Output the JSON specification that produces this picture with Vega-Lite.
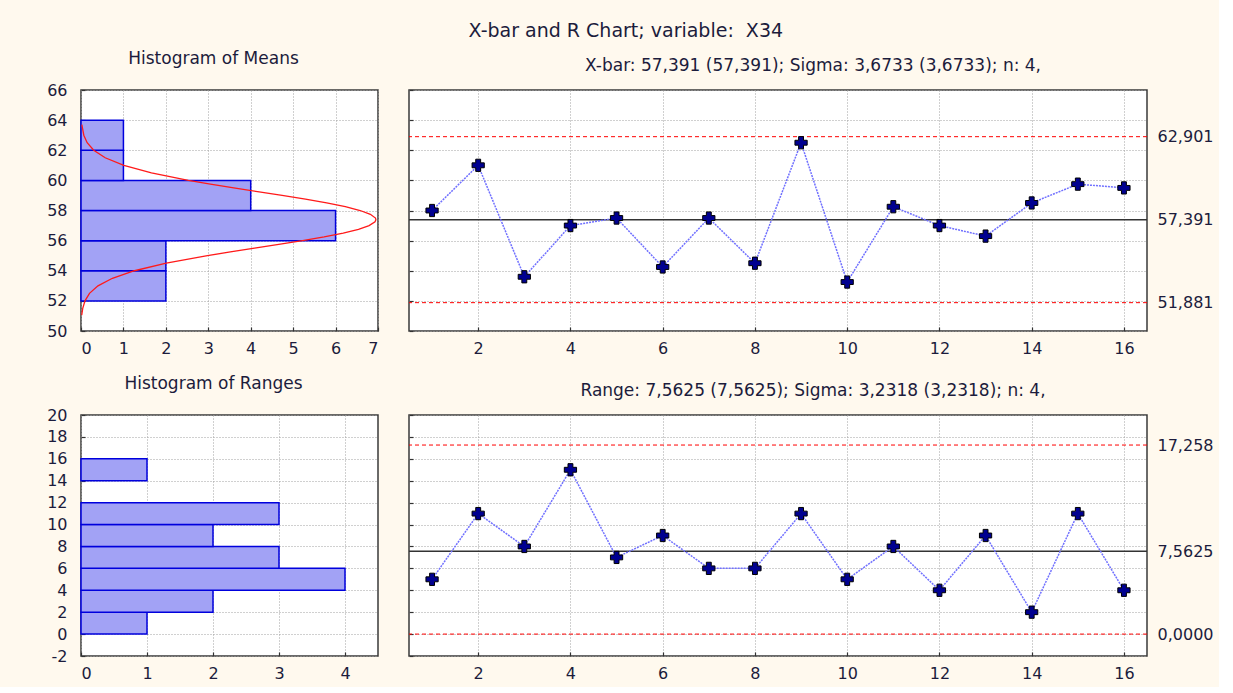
{
  "$schema": "https://vega.github.io/schema/vega-lite/v6.json",
  "background": "#FFF9EE",
  "padding": {"left": 45, "top": 22, "right": 5, "bottom": 5},
  "title": {"text": "X-bar and R Chart; variable:\u00a0 X34", "fontSize": 19, "fontWeight": "normal", "anchor": "middle", "frame": "bounds", "offset": 8, "dx": -4, "color": "#1c1c3c", "font": "DejaVu Sans"},
  "config": {
    "font": "DejaVu Sans",
    "view": {"fill": "white", "stroke": "#3a3a3a", "strokeWidth": 1.5},
    "axis": {"labelFont": "DejaVu Sans", "labelFontSize": 16, "labelColor": "#1c1c3c", "labelOverlap": false, "domain": false, "gridColor": "#a0a0a0", "gridDash": [1, 2], "gridWidth": 1, "tickColor": "#333333", "tickWidth": 1.2},
    "title": {"font": "DejaVu Sans", "fontWeight": "normal", "color": "#1c1c3c"}
  },
  "datasets": {
    "meansHist": [
      {"lo": 52, "hi": 54, "n": 2},
      {"lo": 54, "hi": 56, "n": 2},
      {"lo": 56, "hi": 58, "n": 6},
      {"lo": 58, "hi": 60, "n": 4},
      {"lo": 60, "hi": 62, "n": 1},
      {"lo": 62, "hi": 64, "n": 1}
    ],
    "rangesHist": [
      {"lo": 0, "hi": 2, "n": 1},
      {"lo": 2, "hi": 4, "n": 2},
      {"lo": 4, "hi": 6, "n": 4},
      {"lo": 6, "hi": 8, "n": 3},
      {"lo": 8, "hi": 10, "n": 2},
      {"lo": 10, "hi": 12, "n": 3},
      {"lo": 14, "hi": 16, "n": 1}
    ],
    "curve": [
      {"y": 51.05, "d": 0.017}, {"y": 51.5, "d": 0.041}, {"y": 52, "d": 0.094}, {"y": 52.5, "d": 0.2},
      {"y": 53, "d": 0.4}, {"y": 53.5, "d": 0.74}, {"y": 54, "d": 1.26}, {"y": 54.5, "d": 2.01},
      {"y": 55, "d": 2.98}, {"y": 55.25, "d": 3.52}, {"y": 55.5, "d": 4.09}, {"y": 55.75, "d": 4.66},
      {"y": 56, "d": 5.22}, {"y": 56.25, "d": 5.73}, {"y": 56.5, "d": 6.18}, {"y": 56.75, "d": 6.54},
      {"y": 57, "d": 6.79}, {"y": 57.25, "d": 6.93}, {"y": 57.391, "d": 6.95}, {"y": 57.5, "d": 6.94},
      {"y": 57.75, "d": 6.82}, {"y": 58, "d": 6.58}, {"y": 58.25, "d": 6.23}, {"y": 58.5, "d": 5.79},
      {"y": 58.75, "d": 5.29}, {"y": 59, "d": 4.74}, {"y": 59.25, "d": 4.16}, {"y": 59.5, "d": 3.6},
      {"y": 59.75, "d": 3.05}, {"y": 60, "d": 2.53}, {"y": 60.5, "d": 1.66}, {"y": 61, "d": 1.01},
      {"y": 61.5, "d": 0.57}, {"y": 62, "d": 0.3}, {"y": 62.5, "d": 0.145}, {"y": 63, "d": 0.066},
      {"y": 63.7, "d": 0.02}
    ],
    "means": [
      {"s": 1, "v": 58.0}, {"s": 2, "v": 61.0}, {"s": 3, "v": 53.6}, {"s": 4, "v": 57.0},
      {"s": 5, "v": 57.5}, {"s": 6, "v": 54.25}, {"s": 7, "v": 57.5}, {"s": 8, "v": 54.5},
      {"s": 9, "v": 62.5}, {"s": 10, "v": 53.25}, {"s": 11, "v": 58.25}, {"s": 12, "v": 57.0},
      {"s": 13, "v": 56.3}, {"s": 14, "v": 58.5}, {"s": 15, "v": 59.75}, {"s": 16, "v": 59.5}
    ],
    "ranges": [
      {"s": 1, "v": 5}, {"s": 2, "v": 11}, {"s": 3, "v": 8}, {"s": 4, "v": 15},
      {"s": 5, "v": 7}, {"s": 6, "v": 9}, {"s": 7, "v": 6}, {"s": 8, "v": 6},
      {"s": 9, "v": 11}, {"s": 10, "v": 5}, {"s": 11, "v": 8}, {"s": 12, "v": 4},
      {"s": 13, "v": 9}, {"s": 14, "v": 2}, {"s": 15, "v": 11}, {"s": 16, "v": 4}
    ],
    "xbarLimits": [{"v": 62.901}, {"v": 51.881}],
    "xbarCenter": [{"v": 57.391}],
    "rLimits": [{"v": 17.258}, {"v": 0}],
    "rCenter": [{"v": 7.5625}]
  },
  "columns": 2,
  "bounds": "flush",
  "spacing": {"row": 84, "column": 31},
  "concat": [
    {
      "width": 297, "height": 241,
      "title": {"text": "Histogram of Means", "fontSize": 17, "anchor": "middle", "frame": "group", "dx": -16, "offset": 14},
      "layer": [
        {
          "data": {"name": "meansHist"},
          "mark": {"type": "rect", "fill": "#a2a2f5", "stroke": "#0000dd", "strokeWidth": 1.5},
          "encoding": {
            "y": {"field": "lo", "type": "quantitative", "scale": {"domain": [50, 66], "nice": false, "zero": false},
                  "axis": {"orient": "left", "values": [50, 52, 54, 56, 58, 60, 62, 64, 66], "grid": true, "tickSize": -4, "labelPadding": 18, "labelOverlap": false, "title": null}},
            "y2": {"field": "hi"},
            "x": {"field": "n", "type": "quantitative", "scale": {"domain": [0, 7], "nice": false},
                  "axis": {"orient": "bottom", "values": [0, 1, 2, 3, 4, 5, 6, 7], "grid": true, "tickSize": -4, "labelPadding": 13, "labelOverlap": false, "title": null}},
            "x2": {"datum": 0}
          }
        },
        {
          "data": {"name": "curve"},
          "mark": {"type": "line", "color": "#ff1a1a", "strokeWidth": 1.3},
          "encoding": {
            "y": {"field": "y", "type": "quantitative",
                  "axis": {"orient": "left", "labels": false, "ticks": false, "grid": false, "domain": false, "title": null}},
            "x": {"field": "d", "type": "quantitative",
                  "axis": {"orient": "bottom", "labels": false, "ticks": false, "grid": false, "domain": false, "title": null}},
            "order": {"field": "y", "type": "quantitative"}
          }
        }
      ],
      "resolve": {"axis": {"x": "independent", "y": "independent"}}
    },
    {
      "width": 738, "height": 241,
      "title": {"text": "X-bar: 57,391 (57,391); Sigma: 3,6733 (3,6733); n: 4,", "fontSize": 17, "anchor": "middle", "frame": "group", "dx": 35, "offset": 14},
      "layer": [
        {
          "data": {"name": "xbarLimits"},
          "mark": {"type": "rule", "color": "#ff0000", "strokeDash": [4, 3], "strokeWidth": 1},
          "encoding": {
            "y": {"field": "v", "type": "quantitative", "scale": {"domain": [50, 66], "nice": false, "zero": false},
                  "axis": {"orient": "right", "values": [51.881, 57.391, 62.901], "grid": false, "ticks": false, "labelPadding": 10,
                           "labelExpr": "replace(format(datum.value, '.3f'), '.', ',')", "title": null}}
          }
        },
        {
          "data": {"name": "xbarCenter"},
          "mark": {"type": "rule", "color": "#333333", "strokeWidth": 1.5},
          "encoding": {"y": {"field": "v", "type": "quantitative", "axis": null}}
        },
        {
          "data": {"name": "means"},
          "mark": {"type": "line", "color": "#7070ff", "strokeWidth": 1.5, "strokeDash": [2, 1]},
          "encoding": {
            "x": {"field": "s", "type": "quantitative", "scale": {"domain": [0.5, 16.5], "nice": false, "zero": false},
                  "axis": {"orient": "bottom", "values": [2, 4, 6, 8, 10, 12, 14, 16], "grid": true, "tickSize": -4, "labelPadding": 13, "title": null}},
            "y": {"field": "v", "type": "quantitative",
                  "axis": {"orient": "left", "values": [50, 52, 54, 56, 58, 60, 62, 64, 66], "grid": true, "labels": false, "tickSize": -4, "title": null}}
          }
        },
        {
          "data": {"name": "means"},
          "mark": {"type": "point", "shape": "cross", "filled": true, "size": 150, "fill": "#000090", "stroke": "#000000", "strokeWidth": 1, "opacity": 1},
          "encoding": {
            "x": {"field": "s", "type": "quantitative"},
            "y": {"field": "v", "type": "quantitative", "axis": null}
          }
        }
      ],
      "resolve": {"axis": {"y": "independent"}}
    },
    {
      "width": 297, "height": 241,
      "title": {"text": "Histogram of Ranges", "fontSize": 17, "anchor": "middle", "frame": "group", "dx": -16, "offset": 14},
      "data": {"name": "rangesHist"},
      "mark": {"type": "rect", "fill": "#a2a2f5", "stroke": "#0000dd", "strokeWidth": 1.5},
      "encoding": {
        "y": {"field": "lo", "type": "quantitative", "scale": {"domain": [-2, 20], "nice": false, "zero": false},
              "axis": {"orient": "left", "values": [-2, 0, 2, 4, 6, 8, 10, 12, 14, 16, 18, 20], "grid": true, "tickSize": -4, "labelPadding": 18,
                       "labelExpr": "replace(datum.label, '−', '-')", "title": null}},
        "y2": {"field": "hi"},
        "x": {"field": "n", "type": "quantitative", "scale": {"domain": [0, 4.5], "nice": false},
              "axis": {"orient": "bottom", "values": [0, 1, 2, 3, 4], "grid": true, "tickSize": -4, "labelPadding": 13, "title": null}},
        "x2": {"datum": 0}
      }
    },
    {
      "width": 738, "height": 241,
      "title": {"text": "Range: 7,5625 (7,5625); Sigma: 3,2318 (3,2318); n: 4,", "fontSize": 17, "anchor": "middle", "frame": "group", "dx": 35, "offset": 14},
      "layer": [
        {
          "data": {"name": "rLimits"},
          "mark": {"type": "rule", "color": "#ff0000", "strokeDash": [4, 3], "strokeWidth": 1},
          "encoding": {
            "y": {"field": "v", "type": "quantitative", "scale": {"domain": [-2, 20], "nice": false, "zero": false},
                  "axis": {"orient": "right", "values": [0, 7.5625, 17.258], "grid": false, "ticks": false, "labelPadding": 10,
                           "labelExpr": "replace(format(datum.value, datum.value < 10 ? '.4f' : '.3f'), '.', ',')", "title": null}}
          }
        },
        {
          "data": {"name": "rCenter"},
          "mark": {"type": "rule", "color": "#333333", "strokeWidth": 1.5},
          "encoding": {"y": {"field": "v", "type": "quantitative", "axis": null}}
        },
        {
          "data": {"name": "ranges"},
          "mark": {"type": "line", "color": "#7070ff", "strokeWidth": 1.5, "strokeDash": [2, 1]},
          "encoding": {
            "x": {"field": "s", "type": "quantitative", "scale": {"domain": [0.5, 16.5], "nice": false, "zero": false},
                  "axis": {"orient": "bottom", "values": [2, 4, 6, 8, 10, 12, 14, 16], "grid": true, "tickSize": -4, "labelPadding": 13, "title": null}},
            "y": {"field": "v", "type": "quantitative",
                  "axis": {"orient": "left", "values": [-2, 0, 2, 4, 6, 8, 10, 12, 14, 16, 18, 20], "grid": true, "labels": false, "tickSize": -4, "title": null}}
          }
        },
        {
          "data": {"name": "ranges"},
          "mark": {"type": "point", "shape": "cross", "filled": true, "size": 150, "fill": "#000090", "stroke": "#000000", "strokeWidth": 1, "opacity": 1},
          "encoding": {
            "x": {"field": "s", "type": "quantitative"},
            "y": {"field": "v", "type": "quantitative", "axis": null}
          }
        }
      ],
      "resolve": {"axis": {"y": "independent"}}
    }
  ]
}
